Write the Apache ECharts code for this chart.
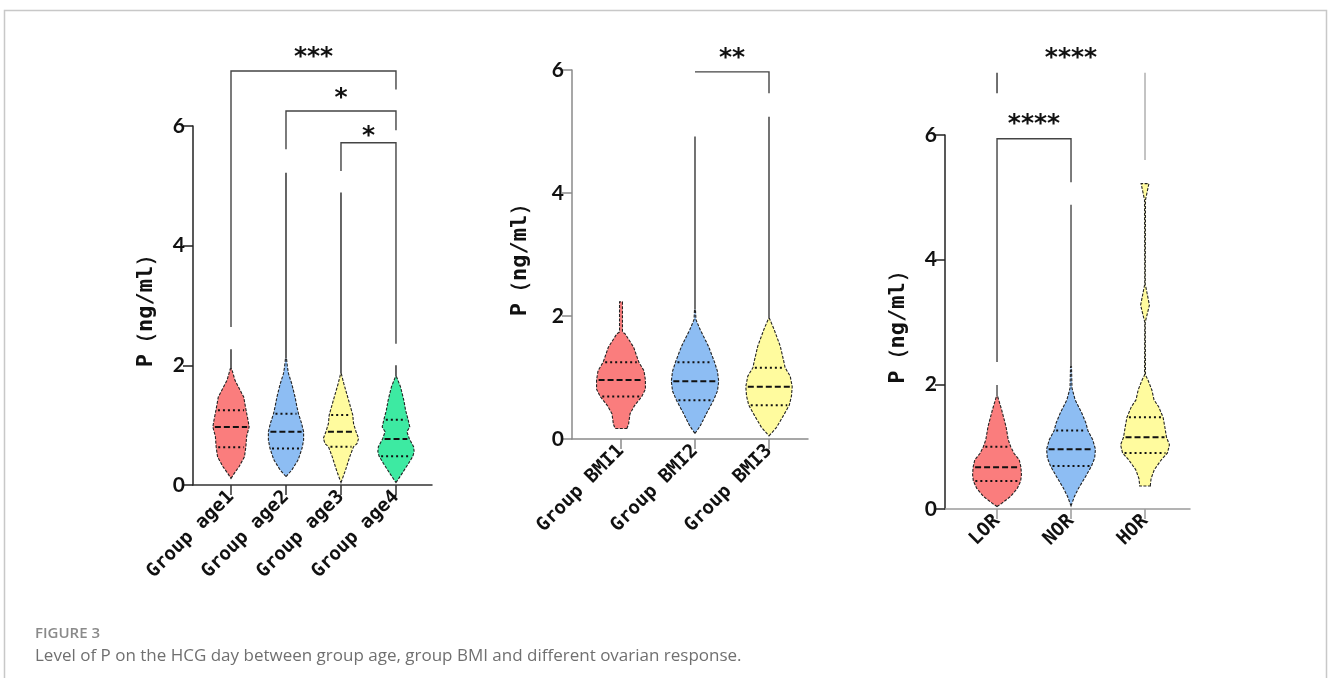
<!DOCTYPE html>
<html>
<head>
<meta charset="utf-8">
<script src="https://cdn.jsdelivr.net/npm/echarts@6/dist/echarts.min.js"></script>
<style>
  html, body { margin: 0; padding: 0; background: #fff; }
  #main { width: 1328px; height: 678px; }
</style>
</head>
<body>
<div id="main"></div>
<script>
// ---- values ----
var ageGroups = ['Group age1', 'Group age2', 'Group age3', 'Group age4'];
var bmiGroups = ['Group BMI1', 'Group BMI2', 'Group BMI3'];
var orGroups = ['LOR', 'NOR', 'HOR'];

// violin outlines, bottom to top: [P (ng/ml), relative width]
var age1Shape = [[0.11,0],[0.19,0.17],[0.31,0.45],[0.47,0.74],[0.64,0.82],[0.81,0.86],[0.97,1.0],[1.08,0.94],[1.25,0.83],[1.47,0.7],[1.75,0.22],[1.94,0.04]];
var age2Shape = [[0.14,0],[0.25,0.32],[0.42,0.67],[0.61,0.88],[0.75,0.97],[0.89,0.97],[1.03,0.86],[1.19,0.69],[1.31,0.6],[1.47,0.5],[1.69,0.32],[1.86,0.14],[1.97,0.08],[2.11,0.03]];
var age3Shape = [[0.04,0],[0.25,0.25],[0.47,0.48],[0.64,0.69],[0.69,0.88],[0.78,0.97],[0.89,0.83],[1.03,0.69],[1.17,0.65],[1.47,0.37],[1.69,0.16],[1.86,0.02]];
var age4Shape = [[0.04,0],[0.19,0.33],[0.36,0.69],[0.48,0.93],[0.56,1.0],[0.64,0.97],[0.77,0.74],[0.89,0.6],[0.97,0.76],[1.09,0.67],[1.25,0.53],[1.42,0.43],[1.64,0.25],[1.81,0.03]];
var ageMedian = [0.97, 0.89, 0.89, 0.77];
var ageQ1 = [0.63, 0.61, 0.64, 0.48];
var ageQ3 = [1.25, 1.19, 1.17, 1.09];
var ageMax = [2.27, 5.22, 4.89, 2.0];

var bmi1Shape = [[0.17,0.24],[0.24,0.31],[0.41,0.37],[0.54,0.55],[0.69,0.85],[0.81,1.0],[0.96,1.0],[1.11,0.94],[1.25,0.73],[1.49,0.52],[1.71,0.17],[1.74,0.06],[2.23,0.06]];
var bmi2Shape = [[0.09,0],[0.21,0.21],[0.43,0.49],[0.63,0.76],[0.78,0.92],[0.94,0.97],[1.1,0.92],[1.25,0.8],[1.51,0.55],[1.78,0.21],[1.94,0.04],[2.1,0.02]];
var bmi3Shape = [[0.05,0],[0.19,0.31],[0.38,0.59],[0.55,0.83],[0.7,0.92],[0.85,0.95],[1.02,0.87],[1.16,0.66],[1.29,0.59],[1.51,0.46],[1.78,0.21],[1.96,0.02]];
var bmiMedian = [0.96, 0.94, 0.85];
var bmiQ1 = [0.69, 0.63, 0.55];
var bmiQ3 = [1.25, 1.25, 1.16];
var bmiMax = [2.23, 4.92, 5.24];

var lorShape = [[0.04,0],[0.09,0.19],[0.2,0.55],[0.33,0.83],[0.45,0.97],[0.55,1.0],[0.67,0.98],[0.79,0.91],[0.89,0.7],[1.0,0.56],[1.11,0.46],[1.32,0.37],[1.59,0.19],[1.8,0.03]];
var norShape = [[0.05,0],[0.2,0.14],[0.34,0.32],[0.53,0.61],[0.69,0.84],[0.82,0.97],[0.96,1.0],[1.11,0.89],[1.26,0.69],[1.38,0.61],[1.54,0.44],[1.75,0.17],[1.94,0.04],[2.28,0.02]];
var horShape = [[0.37,0.22],[0.39,0.22],[0.49,0.25],[0.63,0.38],[0.79,0.67],[0.9,0.92],[1.03,1.0],[1.15,0.88],[1.32,0.81],[1.47,0.74],[1.64,0.56],[1.75,0.37],[1.91,0.28],[2.07,0.12],[2.15,0.02],[3.0,0.01],[3.03,0.03],[3.27,0.18],[3.57,0.03],[3.6,0.01],[4.96,0.02],[5.22,0.16]];
var orMedian = [0.67, 0.96, 1.15];
var orQ1 = [0.45, 0.69, 0.9];
var orQ3 = [1.0, 1.26, 1.47];
var orMax = [1.99, 4.88, 5.22];

// significance brackets: [from, to, bar height, left leg end, right leg end, stars, stars height, bar drawn]
var ageBrackets = [
  [0, 3, 6.92, 2.64, 6.61, '***', 7.24, 1],
  [1, 3, 6.25, 5.61, 5.93, '*', 6.56, 1],
  [2, 3, 5.72, 5.25, 2.36, '*', 5.92, 1]
];
var bmiBrackets = [
  [1, 2, 5.97, 5.97, 5.62, '**', 6.28, 1]
];
var orBrackets = [
  [0, 2, 7.0, 6.67, 5.6, '****', 7.32, 0],
  [0, 1, 5.94, 2.36, 5.24, '****', 6.26, 1]
];

var ageColors = ['#fa7d7d', '#8dbdf3', '#fffb9e', '#3deaa2'];
var threeColors = ['#fa7d7d', '#8dbdf3', '#fffb9e'];

var chart = echarts.init(document.getElementById('main'));

function widthAt(shape, v) {
  for (var j = 1; j < shape.length; j++) {
    if (v <= shape[j][0]) {
      var a = shape[j - 1], b = shape[j];
      return a[1] + (b[1] - a[1]) * (v - a[0]) / (b[0] - a[0]);
    }
  }
  return 0;
}

function violinSeries(g, shapes, med, q1, q3, maxv, colors, stemColor) {
  return {
    type: 'custom',
    xAxisIndex: g,
    yAxisIndex: g,
    silent: true,
    data: shapes.map(function (s, i) { return [i, maxv[i]]; }),
    renderItem: function (params, api) {
      var i = params.dataIndex;
      var shape = shapes[i];
      var k = api.size([1, 0])[0] * 0.33;
      var cx = api.coord([i, 0])[0];
      var py = function (v) { return api.coord([i, v])[1]; };
      var pts = [];
      shape.forEach(function (p) { pts.push([cx + p[1] * k, py(p[0])]); });
      for (var j = shape.length - 1; j >= 0; j--) pts.push([cx - shape[j][1] * k, py(shape[j][0])]);
      var top = shape[shape.length - 1][0];
      var kids = [{
        type: 'line',
        shape: { x1: cx, y1: py(top), x2: cx, y2: py(maxv[i]) },
        style: { stroke: stemColor, lineWidth: 1.5 }
      }, {
        type: 'polygon',
        shape: { points: pts },
        style: { fill: colors[i], stroke: '#222', lineWidth: 1.1, lineDash: [3, 1.5] }
      }];
      [[q1[i], [2, 3]], [q3[i], [2, 3]], [med[i], [6, 3]]].forEach(function (q) {
        var w = widthAt(shape, q[0]) * k;
        kids.push({
          type: 'line',
          shape: { x1: cx - w + 2, y1: py(q[0]), x2: cx + w - 2, y2: py(q[0]) },
          style: { stroke: '#111', lineWidth: 2, lineDash: q[1] }
        });
      });
      return { type: 'group', children: kids };
    }
  };
}

function bracketSeries(g, brackets) {
  return {
    type: 'custom',
    xAxisIndex: g,
    yAxisIndex: g,
    silent: true,
    data: brackets.map(function (b) { return [b[0], b[2]]; }),
    renderItem: function (params, api) {
      var b = brackets[params.dataIndex];
      var x1 = api.coord([b[0], 0])[0];
      var x2 = api.coord([b[1], 0])[0];
      var py = function (v) { return api.coord([0, v])[1]; };
      var kids = [];
      if (b[7]) {
        kids.push({
          type: 'polyline',
          shape: { points: [[x1, py(b[3])], [x1, py(b[2])], [x2, py(b[2])], [x2, py(b[4])]] },
          style: { stroke: '#444', lineWidth: 1.4, fill: null }
        });
      } else {
        kids.push({ type: 'line', shape: { x1: x1, y1: py(b[3]), x2: x1, y2: py(b[2]) }, style: { stroke: '#333', lineWidth: 1.4 } });
        kids.push({ type: 'line', shape: { x1: x2, y1: py(b[4]), x2: x2, y2: py(b[2]) }, style: { stroke: '#aaa', lineWidth: 1.4 } });
      }
      kids.push({
        type: 'text',
        style: {
          text: b[5], x: (x1 + x2) / 2, y: py(b[6]) + 6,
          fill: '#111', fontSize: 25, fontWeight: 'bold', fontFamily: 'DejaVu Sans',
          align: 'center', verticalAlign: 'middle'
        }
      });
      return { type: 'group', children: kids };
    }
  };
}

function makeX(g, cats, min, max, color) {
  var idx = cats.map(function (c, i) { return i; });
  return {
    gridIndex: g, type: 'value', min: min, max: max,
    axisLine: { show: true, onZero: false, lineStyle: { color: color, width: 1.5 } },
    axisTick: { show: true, customValues: idx, length: 10, lineStyle: { color: color, width: 1.5 } },
    axisLabel: {
      customValues: idx, rotate: 45, margin: 9,
      formatter: function (v) { return cats[Math.round(v)]; },
      fontFamily: 'DejaVu Sans Mono', fontWeight: 'bold', fontSize: 19, color: '#111'
    },
    splitLine: { show: false }
  };
}

function makeY(g, color, gap) {
  return {
    gridIndex: g, type: 'value', min: 0, max: 6, interval: 2,
    name: 'P（ng/ml）', nameLocation: 'middle', nameGap: gap, nameRotate: 90,
    nameTextStyle: { fontFamily: 'DejaVu Sans Mono', fontWeight: 'bold', fontSize: 22, color: '#111' },
    axisLine: { show: true, onZero: false, lineStyle: { color: color, width: 1.5 } },
    axisTick: { show: true, length: 10, lineStyle: { color: color, width: 1.5 } },
    axisLabel: { fontFamily: 'Lato', fontWeight: 'bold', fontSize: 21, color: '#111', margin: 8 },
    splitLine: { show: false }
  };
}

var option = {
  backgroundColor: '#fff',
  animation: false,
  grid: [
    { left: 193, top: 126, width: 239, height: 359 },
    { left: 572, top: 70, width: 236, height: 369 },
    { left: 945, top: 135, width: 245, height: 374 }
  ],
  xAxis: [
    makeX(0, ageGroups, -0.691, 3.655, '#333'),
    makeX(1, bmiGroups, -0.662, 2.527, '#8a8a8a'),
    makeX(2, orGroups, -0.703, 2.608, '#9a9a9a')
  ],
  yAxis: [
    makeY(0, '#222', 36),
    makeY(1, '#8a8a8a', 41),
    makeY(2, '#222', 36)
  ],
  graphic: [
    { type: 'rect', silent: true, shape: { x: 4.5, y: 10.5, width: 1322, height: 700 },
      style: { fill: null, stroke: '#c8c8c8', lineWidth: 1.5 } },
    { type: 'text', left: 35, top: 626,
      style: { text: 'FIGURE 3', fill: '#8a8a8a', font: '600 15px "Open Sans"' } },
    { type: 'text', left: 35, top: 648,
      style: { text: 'Level of P on the HCG day between group age, group BMI and different ovarian response.', fill: '#707070', font: '17px "Open Sans"' } }
  ],
  series: [
    violinSeries(0, [age1Shape, age2Shape, age3Shape, age4Shape], ageMedian, ageQ1, ageQ3, ageMax, ageColors, '#333'),
    bracketSeries(0, ageBrackets),
    violinSeries(1, [bmi1Shape, bmi2Shape, bmi3Shape], bmiMedian, bmiQ1, bmiQ3, bmiMax, threeColors, '#444'),
    bracketSeries(1, bmiBrackets),
    violinSeries(2, [lorShape, norShape, horShape], orMedian, orQ1, orQ3, orMax, threeColors, '#555'),
    bracketSeries(2, orBrackets)
  ]
};
chart.setOption(option);
</script>
</body>
</html>
